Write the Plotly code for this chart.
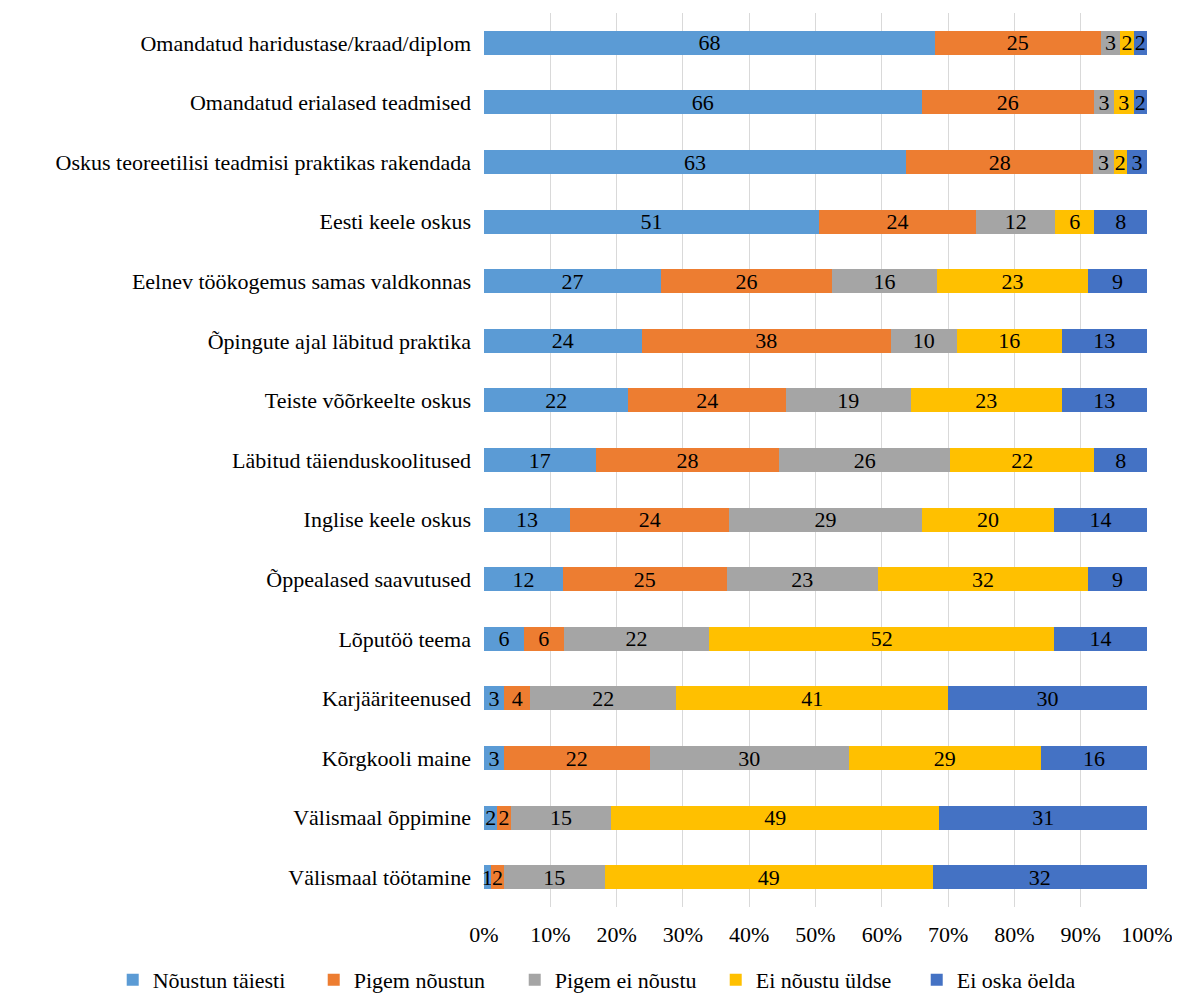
import plotly.graph_objects as go

categories = [
    "Omandatud haridustase/kraad/diplom",
    "Omandatud erialased teadmised",
    "Oskus teoreetilisi teadmisi praktikas rakendada",
    "Eesti keele oskus",
    "Eelnev töökogemus samas valdkonnas",
    "Õpingute ajal läbitud praktika",
    "Teiste võõrkeelte oskus",
    "Läbitud täienduskoolitused",
    "Inglise keele oskus",
    "Õppealased saavutused",
    "Lõputöö teema",
    "Karjääriteenused",
    "Kõrgkooli maine",
    "Välismaal õppimine",
    "Välismaal töötamine",
]

series_names = ["Nõustun täiesti", "Pigem nõustun", "Pigem ei nõustu", "Ei nõustu üldse", "Ei oska öelda"]

noustun_taiesti = [68, 66, 63, 51, 27, 24, 22, 17, 13, 12, 6, 3, 3, 2, 1]
pigem_noustun = [25, 26, 28, 24, 26, 38, 24, 28, 24, 25, 6, 4, 22, 2, 2]
pigem_ei_noustu = [3, 3, 3, 12, 16, 10, 19, 26, 29, 23, 22, 22, 30, 15, 15]
ei_noustu_uldse = [2, 3, 2, 6, 23, 16, 23, 22, 20, 32, 52, 41, 29, 49, 49]
ei_oska_oelda = [2, 2, 3, 8, 9, 13, 13, 8, 14, 9, 14, 30, 16, 31, 32]

tick_vals = [0, 10, 20, 30, 40, 50, 60, 70, 80, 90, 100]
tick_text = ["0%", "10%", "20%", "30%", "40%", "50%", "60%", "70%", "80%", "90%", "100%"]

colors = ["#5B9BD5", "#ED7D31", "#A5A5A5", "#FFC000", "#4472C4"]
values = [noustun_taiesti, pigem_noustun, pigem_ei_noustu, ei_noustu_uldse, ei_oska_oelda]

FONT = "Liberation Serif"
FS = 22

fig = go.Figure()
for name, vals, col in zip(series_names, values, colors):
    fig.add_trace(go.Bar(
        y=categories, x=vals, name=name, orientation="h",
        marker=dict(color=col, line=dict(width=0)),
        text=[str(v) for v in vals], textposition="inside", textangle=0,
        insidetextanchor="middle", constraintext="none",
        textfont=dict(family=FONT, size=FS, color="black"),
        cliponaxis=False,
    ))

# page is offset by 8px body margin; sizes are relative to the figure div
fig.update_layout(
    width=1164, height=988,
    barmode="stack", barnorm="percent", bargap=0.6,
    plot_bgcolor="white", paper_bgcolor="white",
    margin=dict(l=476, r=25, t=5, b=89, autoexpand=False),
    font=dict(family=FONT, size=FS, color="black"),
    showlegend=True,
    legend=dict(orientation="h", xref="paper", yref="paper",
                x=-0.56, xanchor="left", y=-0.058, yanchor="top",
                font=dict(family=FONT, size=FS, color="black"),
                itemwidth=30, entrywidth=156, traceorder="normal"),
)
fig.update_xaxes(range=[0, 100], tickvals=tick_vals, ticktext=tick_text,
                 showgrid=True, gridcolor="#D9D9D9", gridwidth=1,
                 zeroline=False, showline=False, ticks="", automargin=False,
                 ticklabeloverflow="allow",
                 ticklabelstandoff=12, fixedrange=True)
fig.update_yaxes(autorange="reversed", showgrid=False, showline=False,
                 ticks="", ticklabelstandoff=12, automargin=False, fixedrange=True)

fig.write_html("out.html")
